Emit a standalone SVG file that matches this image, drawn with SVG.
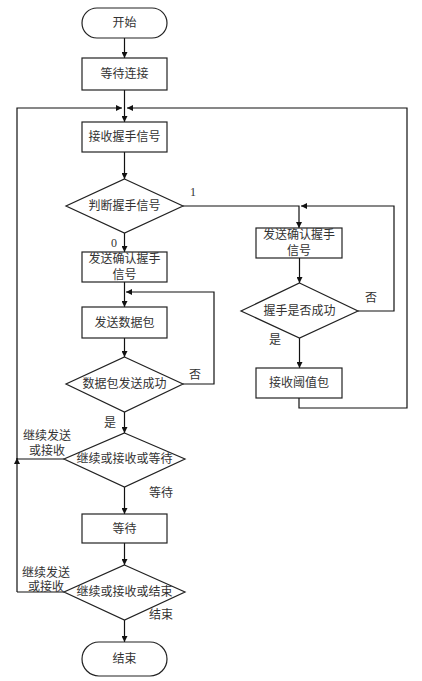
<svg xmlns="http://www.w3.org/2000/svg" width="422" height="681" viewBox="0 0 422 681">
<defs>
<marker id="ah" viewBox="0 0 10 10" refX="10" refY="5" markerWidth="6" markerHeight="6" markerUnits="userSpaceOnUse" orient="auto">
<path d="M0,0 L10,5 L0,10 z" fill="#111"/>
</marker>
<style>
.n{fill:#fff;stroke:#222;stroke-width:1.2}
.t{font-family:"Liberation Serif","Noto Sans CJK SC",serif;font-size:12px;fill:#333;text-anchor:middle;dominant-baseline:central}
.c{fill:none;stroke:#111;stroke-width:1.2}
.a{marker-end:url(#ah)}
</style>
</defs>
<rect width="422" height="681" fill="#fff"/>
<g id="connectors">
<line class="c a" x1="124.5" y1="38" x2="124.5" y2="58"/>
<line class="c a" x1="124.5" y1="90" x2="124.5" y2="122"/>
<polyline class="c a" points="17,592 17,108 122,108"/>
<line class="c" x1="17" y1="459" x2="17" y2="459"/>
<polyline class="c a" points="299,398 299,408 407,408 407,108 127,108"/>
<line class="c a" x1="124.5" y1="152" x2="124.5" y2="179"/>
<polyline class="c a" points="183,206 299,206 299,228"/>
<polyline class="c a" points="358,311 394,311 394,206 301,206"/>
<line class="c a" x1="299.5" y1="258" x2="299.5" y2="283"/>
<line class="c a" x1="299.5" y1="338" x2="299.5" y2="368"/>
<line class="c a" x1="124.5" y1="233" x2="124.5" y2="252"/>
<line class="c a" x1="124.5" y1="282" x2="124.5" y2="307"/>
<polyline class="c a" points="183,384 214,384 214,292 126,292"/>
<line class="c a" x1="124.5" y1="338" x2="124.5" y2="357"/>
<line class="c a" x1="124.5" y1="412" x2="124.5" y2="433"/>
<polyline class="c a" points="64,459 17,459 17,458"/>
<line class="c" x1="17" y1="592" x2="64" y2="592"/>
<line class="c a" x1="124.5" y1="487" x2="124.5" y2="514"/>
<line class="c a" x1="124.5" y1="543" x2="124.5" y2="565"/>
<line class="c a" x1="124.5" y1="620" x2="124.5" y2="642"/>
</g>
<g id="start"><rect class="n" x="82" y="8" width="85" height="30" rx="15"/><text class="t" x="124.5" y="23">开始</text></g>
<g id="wait-connect"><rect class="n" x="82" y="58" width="85" height="32"/><text class="t" x="124.5" y="74">等待连接</text></g>
<g id="recv-handshake"><rect class="n" x="82" y="122" width="85" height="30"/><text class="t" x="124.5" y="137">接收握手信号</text></g>
<g id="judge-handshake"><polygon class="n" points="124.5,179 183,206 124.5,233 66,206"/><text class="t" x="124.5" y="206">判断握手信号</text></g>
<g id="send-ack-left"><rect class="n" x="82" y="252" width="85" height="30"/><text class="t" x="124.5" y="259">发送确认握手</text><text class="t" x="124.5" y="275">信号</text></g>
<g id="send-data"><rect class="n" x="82" y="307" width="85" height="31"/><text class="t" x="124.5" y="322.5">发送数据包</text></g>
<g id="data-ok"><polygon class="n" points="124.5,357 183,384 124.5,412 66,384"/><text class="t" x="124.5" y="384">数据包发送成功</text></g>
<g id="continue-wait"><polygon class="n" points="124.5,433 185,459 124.5,487 64,459"/><text class="t" x="124.5" y="459">继续或接收或等待</text></g>
<g id="wait"><rect class="n" x="82" y="514" width="85" height="29"/><text class="t" x="124.5" y="528.5">等待</text></g>
<g id="continue-end"><polygon class="n" points="124.5,565 185,592 124.5,620 64,592"/><text class="t" x="124.5" y="592">继续或接收或结束</text></g>
<g id="end"><rect class="n" x="82" y="642" width="85" height="34" rx="17"/><text class="t" x="124.5" y="659">结束</text></g>
<g id="send-ack-right"><rect class="n" x="256" y="228" width="86" height="30"/><text class="t" x="299" y="235">发送确认握手</text><text class="t" x="299" y="251">信号</text></g>
<g id="handshake-ok"><polygon class="n" points="299.5,283 358,311 299.5,338 241,311"/><text class="t" x="299.5" y="311">握手是否成功</text></g>
<g id="recv-threshold"><rect class="n" x="256" y="368" width="86" height="30"/><text class="t" x="299" y="383">接收阈值包</text></g>
<g id="labels">
<text class="t" x="193" y="192">1</text>
<text class="t" x="114" y="243">0</text>
<text class="t" x="371" y="298">否</text>
<text class="t" x="275" y="340">是</text>
<text class="t" x="195" y="375">否</text>
<text class="t" x="110" y="423">是</text>
<text class="t" x="47" y="436">继续发送</text>
<text class="t" x="47" y="451">或接收</text>
<text class="t" x="161" y="493">等待</text>
<text class="t" x="46" y="573">继续发送</text>
<text class="t" x="46" y="587">或接收</text>
<text class="t" x="161" y="615">结束</text>
</g>
</svg>
